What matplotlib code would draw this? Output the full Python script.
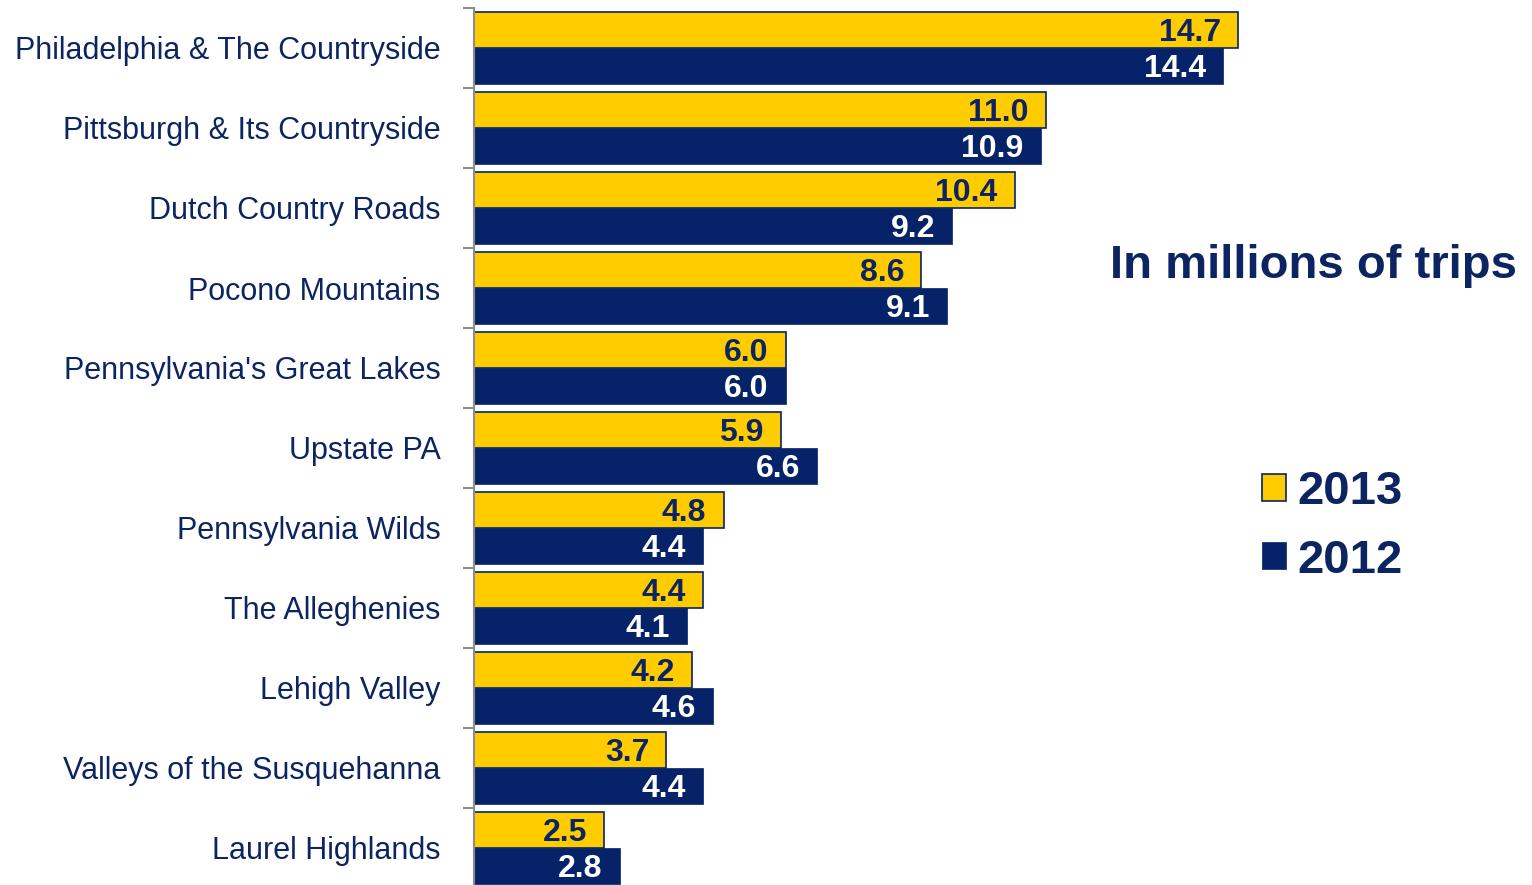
import matplotlib.pyplot as plt
from matplotlib.ticker import FixedLocator

plt.rcParams['font.family'] = ['Liberation Sans', 'DejaVu Sans']

regions = ["Philadelphia & The Countryside", "Pittsburgh & Its Countryside",
           "Dutch Country Roads", "Pocono Mountains", "Pennsylvania's Great Lakes",
           "Upstate PA", "Pennsylvania Wilds", "The Alleghenies", "Lehigh Valley",
           "Valleys of the Susquehanna", "Laurel Highlands"]
trips_2013 = [14.7, 11.0, 10.4, 8.6, 6.0, 5.9, 4.8, 4.4, 4.2, 3.7, 2.5]
trips_2012 = [14.4, 10.9, 9.2, 9.1, 6.0, 6.6, 4.4, 4.1, 4.6, 4.4, 2.8]

yellow = '#FFCC00'
navy = '#06236A'
txt = '#0C2461'

fig = plt.figure(figsize=(15.32, 8.85), dpi=100)
ax = fig.add_axes([474 / 1532, -3 / 885, 1058 / 1532, 880 / 885])

pos = list(range(len(regions)))
y13 = [p + 0.275 for p in pos]
y12 = [p + 0.725 for p in pos]
b13 = ax.barh(y13, trips_2013, height=0.45, color=yellow, edgecolor=navy, linewidth=1.2, label='2013')
b12 = ax.barh(y12, trips_2012, height=0.45, color=navy, edgecolor=navy, linewidth=0.5, label='2012')

# value labels inside the bar ends
for y, v in zip(y13, trips_2013):
    ax.text(v - 0.33, y + 0.035, '%.1f' % v, ha='right', va='center', fontsize=23,
            fontweight='bold', color=txt)
for y, v in zip(y12, trips_2012):
    ax.text(v - 0.33, y + 0.035, '%.1f' % v, ha='right', va='center', fontsize=23,
            fontweight='bold', color='white')

ax.set_xlim(0, 1058 / 52)
ax.set_ylim(len(regions), 0)

ax.yaxis.set_major_locator(FixedLocator([p for p in range(len(regions) + 1)]))
ax.yaxis.set_minor_locator(FixedLocator([p + 0.5 for p in pos]))
ax.set_yticklabels([], minor=False)
ax.set_yticklabels(regions, minor=True, fontsize=22, color=txt)
ax.tick_params(axis='y', which='major', length=8, width=1.5, color='#8C8C8C', direction='out')
ax.tick_params(axis='y', which='minor', length=0, pad=24)

ax.xaxis.set_visible(False)
for s in ['top', 'right', 'bottom']:
    ax.spines[s].set_visible(False)
ax.spines['left'].set_color('#8C8C8C')
ax.spines['left'].set_linewidth(1.5)

fig.text(1517 / 1532, 1 - 266 / 885, 'In millions of trips', ha='right', va='center',
         fontsize=34, fontweight='bold', color=txt)

leg = fig.legend(handles=[b13, b12], labels=['2013', '2012'], loc='upper left',
                 bbox_to_anchor=(1262 / 1532, 1 - 470 / 885), frameon=False,
                 borderpad=0, borderaxespad=0,
                 handlelength=0.5, handleheight=0.5, handletextpad=0.25, labelspacing=0.52,
                 prop={'weight': 'bold', 'size': 34})
for t in leg.get_texts():
    t.set_color(txt)

plt.savefig('out.png')
